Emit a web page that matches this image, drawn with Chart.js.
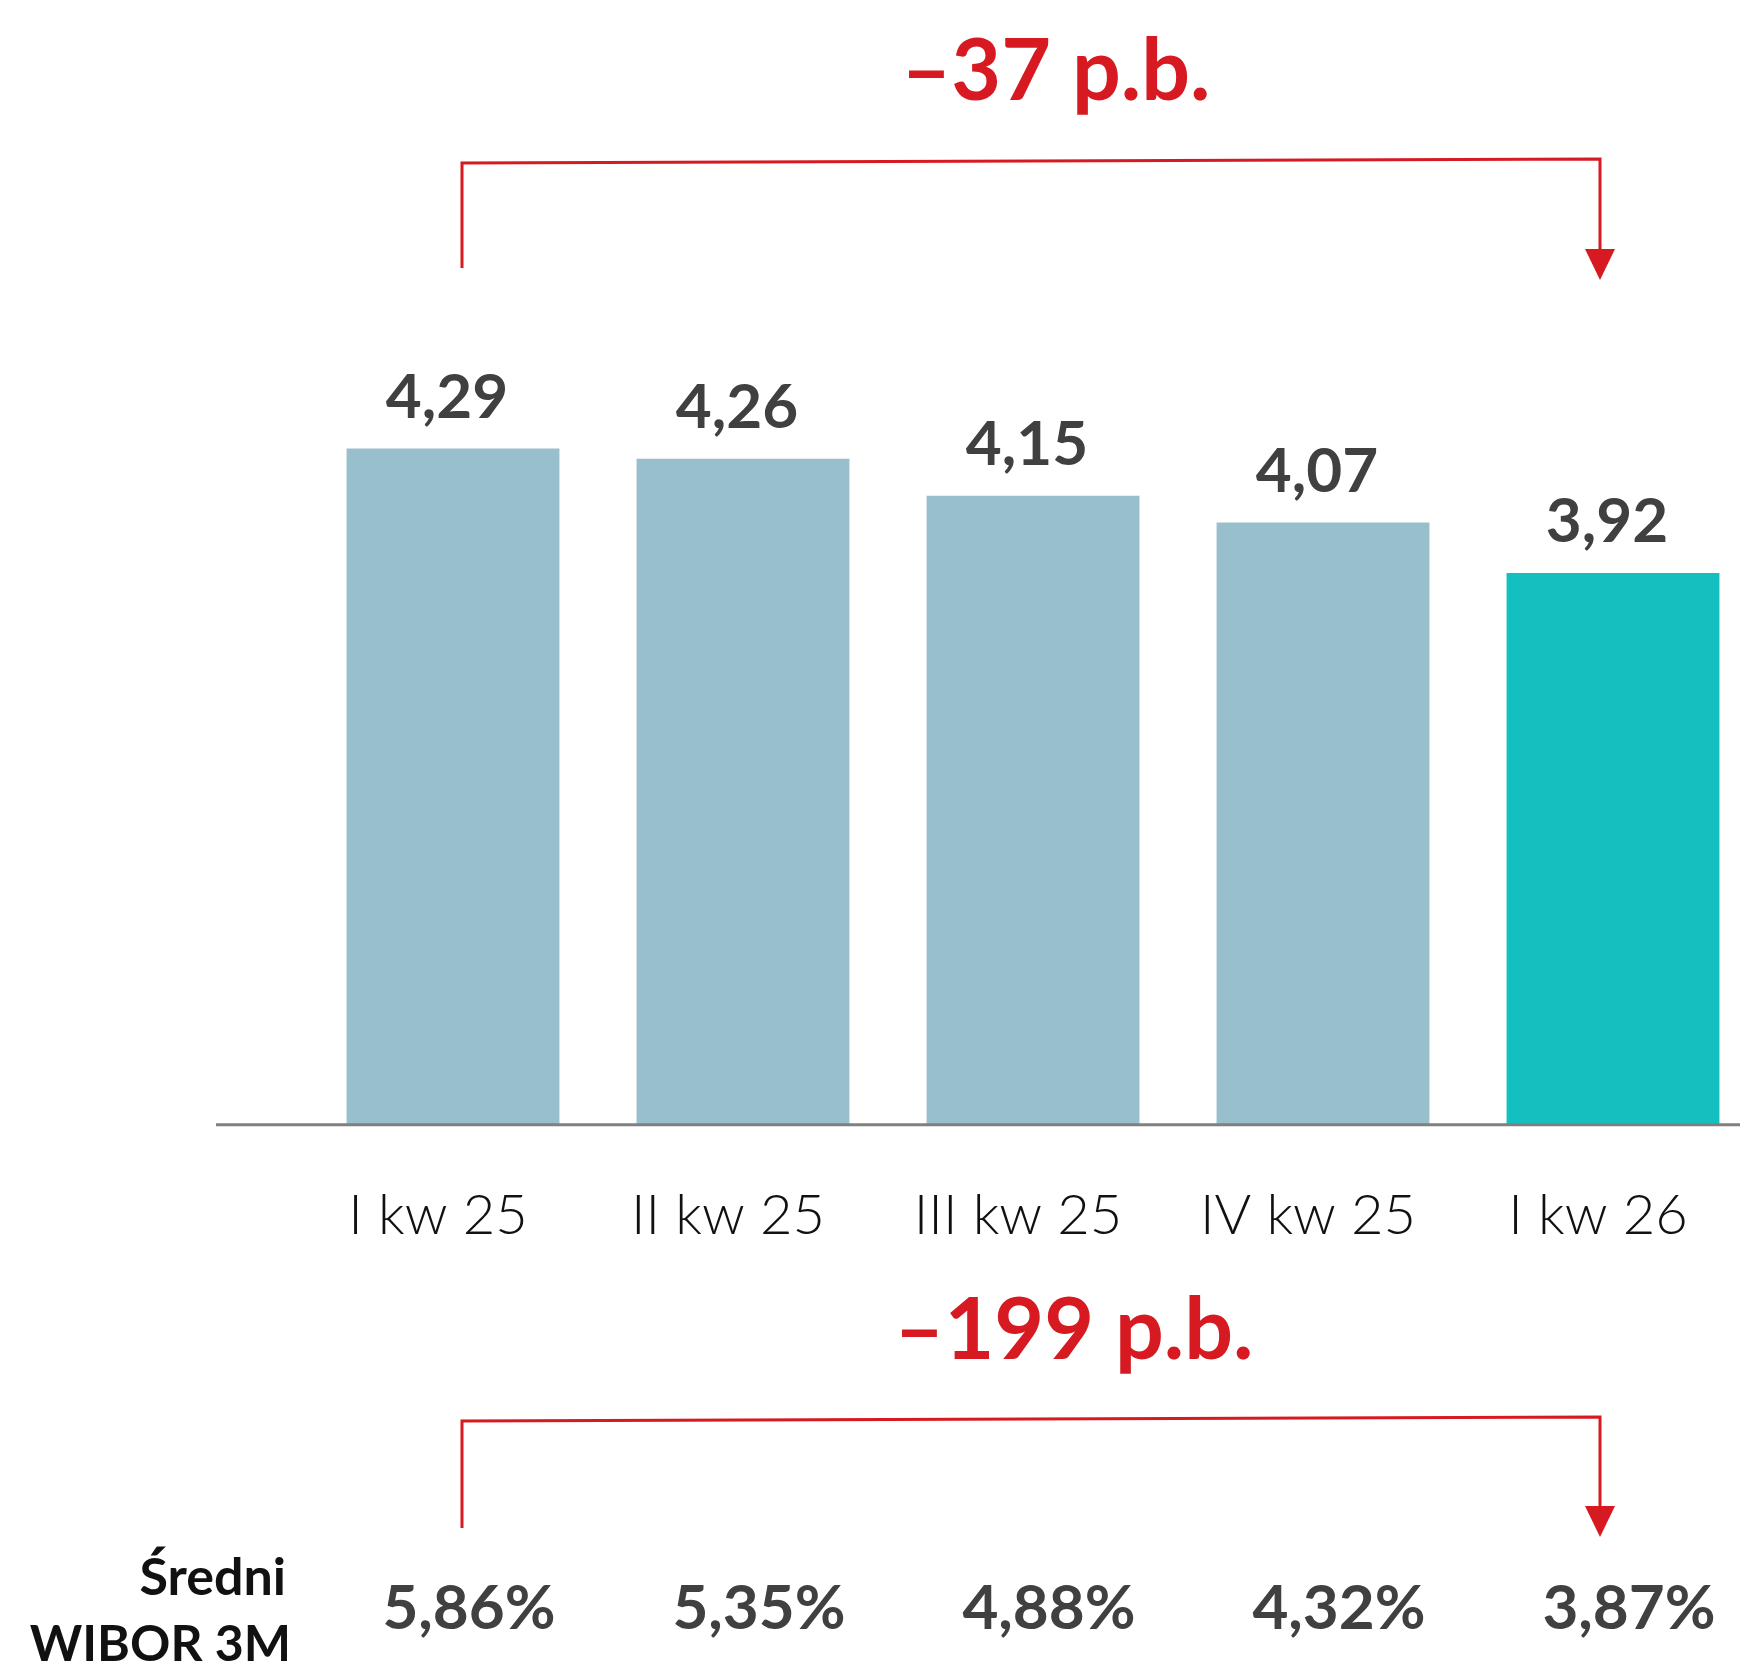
<!DOCTYPE html>
<html>
<head>
<meta charset="utf-8">
<script src="https://cdn.jsdelivr.net/npm/chart.js@4.4.1/dist/chart.umd.min.js"></script>
<style>
  html, body { margin: 0; padding: 0; background: #fff; overflow: hidden; }
  #wrap { width: 1740px; height: 1665px; overflow: hidden; }
</style>
</head>
<body>
<div id="wrap"><canvas id="chart" width="1760" height="1665"></canvas></div>
<script>
// dane z wykresu
const categories = ['I kw 25', 'II kw 25', 'III kw 25', 'IV kw 25', 'I kw 26'];
const values = [4.29, 4.26, 4.15, 4.07, 3.92];
const wiborValues = [5.86, 5.35, 4.88, 4.32, 3.87];
const barColors = ['#98bfcc', '#98bfcc', '#98bfcc', '#98bfcc', '#13bfbf'];
const changeTop = '–37 p.b.';
const changeBottom = '–199 p.b.';
const wiborLabel = ['Średni', 'WIBOR 3M'];

const RED = '#d71a21';
const fmt = v => v.toFixed(2).replace('.', ',');

function drawBracket(ctx, x0, x1, startY, topL, topR, tipY) {
    ctx.strokeStyle = RED;
    ctx.fillStyle = RED;
    ctx.lineWidth = 3;
    ctx.beginPath();
    ctx.moveTo(x0, startY);
    ctx.lineTo(x0, topL);
    ctx.lineTo(x1, topR);
    ctx.lineTo(x1, tipY - 30);
    ctx.stroke();
    // grot strzałki
    ctx.beginPath();
    ctx.moveTo(x1 - 15, tipY - 31);
    ctx.lineTo(x1 + 15, tipY - 31);
    ctx.lineTo(x1, tipY);
    ctx.closePath();
    ctx.fill();
}

const annotations = {
    id: 'annotations',
    afterDatasetsDraw(chart) {
        const { ctx, scales: { x, y } } = chart;
        const base = y.getPixelForValue(y.min);
        ctx.save();

        // oś pozioma
        ctx.strokeStyle = '#808080';
        ctx.lineWidth = 3;
        ctx.beginPath();
        ctx.moveTo(216, base);
        ctx.lineTo(chart.width, base);
        ctx.stroke();

        // etykiety wartości nad słupkami
        ctx.fillStyle = '#404040';
        ctx.font = '700 62px Lato';
        ctx.textAlign = 'center';
        ctx.textBaseline = 'alphabetic';
        chart.getDatasetMeta(0).data.forEach((bar, i) => {
            ctx.fillText(fmt(values[i]), bar.x - 6, bar.y - 31);
        });

        // strzałki
        const x0 = x.getPixelForValue(0) + 9;
        const x1 = x.getPixelForValue(values.length - 1) - 13;
        drawBracket(ctx, x0, x1, 268, 163, 159, 280);
        drawBracket(ctx, x0, x1, 1528, 1421, 1417, 1537);

        // zmiana w p.b.
        ctx.fillStyle = RED;
        ctx.font = '700 86px Lato';
        ctx.fillText(changeTop, 1056, 100);
        ctx.fillText(changeBottom, 1074, 1359);

        // średni WIBOR 3M
        ctx.fillStyle = '#111111';
        ctx.font = '700 52px Lato';
        ctx.textAlign = 'right';
        ctx.fillText(wiborLabel[0], 286, 1595);
        ctx.font = '700 50px Lato';
        ctx.fillText(wiborLabel[1], 291, 1661);

        ctx.fillStyle = '#404040';
        ctx.font = '700 62px Lato';
        ctx.textAlign = 'center';
        wiborValues.forEach((v, i) => {
            ctx.fillText(fmt(v) + '%', x.getPixelForValue(i) + 16, 1629);
        });

        ctx.restore();
    }
};

const ctx = document.getElementById('chart').getContext('2d');
new Chart(ctx, {
    type: 'bar',
    data: {
        labels: categories,
        datasets: [{
            data: values,
            backgroundColor: barColors,
            borderWidth: 0,
            barPercentage: 0.734,
            categoryPercentage: 1.0
        }]
    },
    options: {
        responsive: false,
        animation: false,
        layout: { padding: { left: 308, right: 2, top: 277, bottom: 365 } },
        plugins: {
            legend: { display: false },
            tooltip: { enabled: false }
        },
        scales: {
            x: {
                grid: { display: false },
                border: { display: false },
                ticks: {
                    color: '#111111',
                    padding: 50,
                    labelOffset: -15,
                    font: { family: 'Lato', size: 56, weight: 300 }
                }
            },
            y: {
                display: false,
                min: 2.28,
                max: 4.8
            }
        }
    },
    plugins: [annotations]
});
</script>
</body>
</html>
